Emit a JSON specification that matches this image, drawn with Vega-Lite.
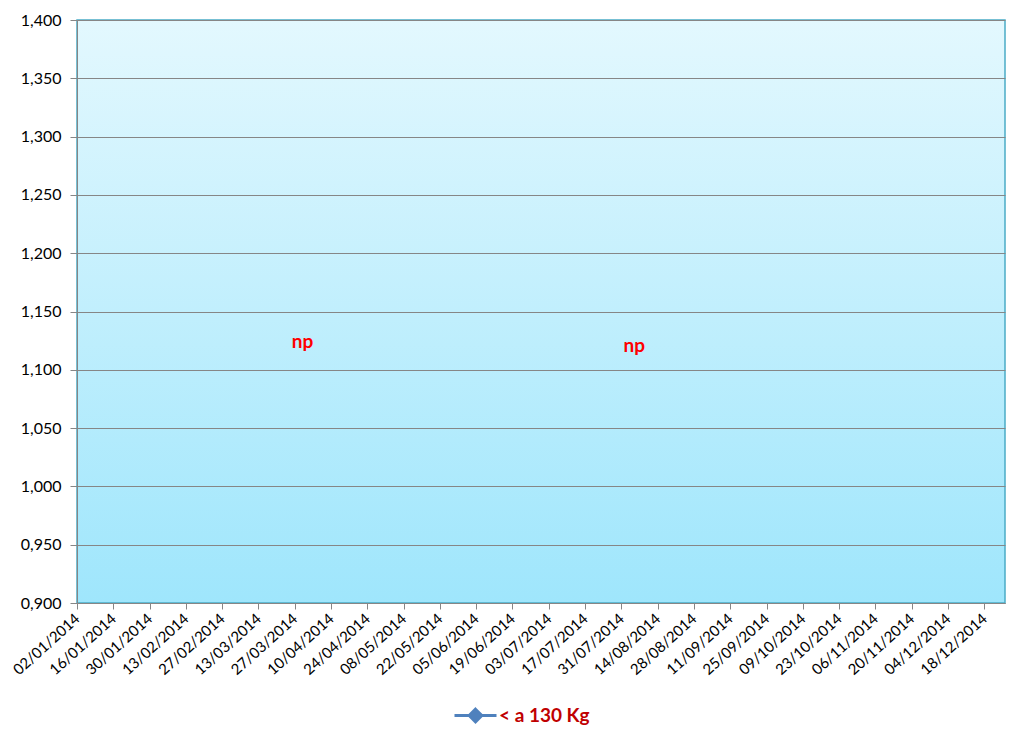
{
  "$schema": "https://vega.github.io/schema/vega-lite/v6.json",
  "width": 928,
  "height": 583,
  "autosize": {"type": "none"},
  "padding": {"left": 77, "top": 20, "right": 19, "bottom": 135},
  "background": "white",
  "config": {
    "locale": {"number": {"decimal": ",", "thousands": ".", "grouping": [3], "currency": ["", " €"]}},
    "font": "Lato",
    "view": {
      "fill": {"gradient": "linear", "x1": 0, "y1": 0, "x2": 0, "y2": 1, "stops": [{"offset": 0, "color": "#E3F8FE"}, {"offset": 1, "color": "#9FE6FC"}]},
      "stroke": "#4BACC6",
      "strokeWidth": 1.5
    }
  },
  "datasets": {
    "series": [
      {"date": "2014-01-02", "value": null, "series": "< a 130 Kg"},
      {"date": "2014-03-29", "value": null, "series": "< a 130 Kg"},
      {"date": "2014-08-04", "value": null, "series": "< a 130 Kg"},
      {"date": "2014-12-18", "value": null, "series": "< a 130 Kg"}
    ],
    "notes": [
      {"date": "2014-03-30", "value": 1.124, "label": "np"},
      {"date": "2014-08-05", "value": 1.12, "label": "np"}
    ]
  },
  "encoding": {
    "x": {
      "field": "date",
      "type": "temporal",
      "scale": {"type": "utc", "domain": ["2014-01-02", "2014-12-26"]},
      "axis": {
        "title": null,
        "format": "%d/%m/%Y",
        "values": [
          "2014-01-02", "2014-01-16", "2014-01-30", "2014-02-13", "2014-02-27",
          "2014-03-13", "2014-03-27", "2014-04-10", "2014-04-24", "2014-05-08",
          "2014-05-22", "2014-06-05", "2014-06-19", "2014-07-03", "2014-07-17",
          "2014-07-31", "2014-08-14", "2014-08-28", "2014-09-11", "2014-09-25",
          "2014-10-09", "2014-10-23", "2014-11-06", "2014-11-20", "2014-12-04",
          "2014-12-18"
        ],
        "labelAngle": -42,
        "labelAlign": "right",
        "labelBaseline": "middle",
        "labelFontSize": 15,
        "labelColor": "#000000",
        "labelPadding": 7,
        "labelOverlap": false,
        "labelFlush": false,
        "grid": false,
        "tickColor": "#868686",
        "tickSize": 6,
        "domainColor": "#868686"
      }
    },
    "y": {
      "field": "value",
      "type": "quantitative",
      "scale": {"domain": [0.9, 1.4], "zero": false, "nice": false},
      "axis": {
        "title": null,
        "format": ".3f",
        "values": [0.9, 0.95, 1.0, 1.05, 1.1, 1.15, 1.2, 1.25, 1.3, 1.35, 1.4],
        "labelFontSize": 16,
        "labelColor": "#000000",
        "labelPadding": 9,
        "grid": true,
        "gridColor": "#868686",
        "gridWidth": 1,
        "gridOpacity": 1,
        "tickColor": "#868686",
        "tickSize": 7,
        "domainColor": "#868686"
      }
    }
  },
  "layer": [
    {
      "data": {"name": "series"},
      "mark": {"type": "line", "strokeWidth": 2.5, "point": {"shape": "diamond", "filled": true}},
      "encoding": {
        "color": {
          "field": "series",
          "type": "nominal",
          "scale": {"domain": ["< a 130 Kg"], "range": ["#4F81BD"]},
          "legend": {
            "title": null,
            "orient": "none",
            "legendX": 376,
            "legendY": 673,
            "labelColor": "#C00000",
            "labelFontWeight": "bold",
            "labelFontSize": 19,
            "symbolType": "M-1,0H1M0,-0.3L0.3,0L0,0.3L-0.3,0Z",
            "symbolSize": 1764,
            "symbolStrokeWidth": 3,
            "symbolFillColor": "#4F81BD",
            "symbolStrokeColor": "#4F81BD",
            "labelOffset": 1
          }
        }
      }
    },
    {
      "data": {"name": "notes"},
      "mark": {"type": "text", "fontWeight": "bold", "color": "#FF0000", "fontSize": 19},
      "encoding": {
        "text": {"field": "label"}
      }
    }
  ]
}
